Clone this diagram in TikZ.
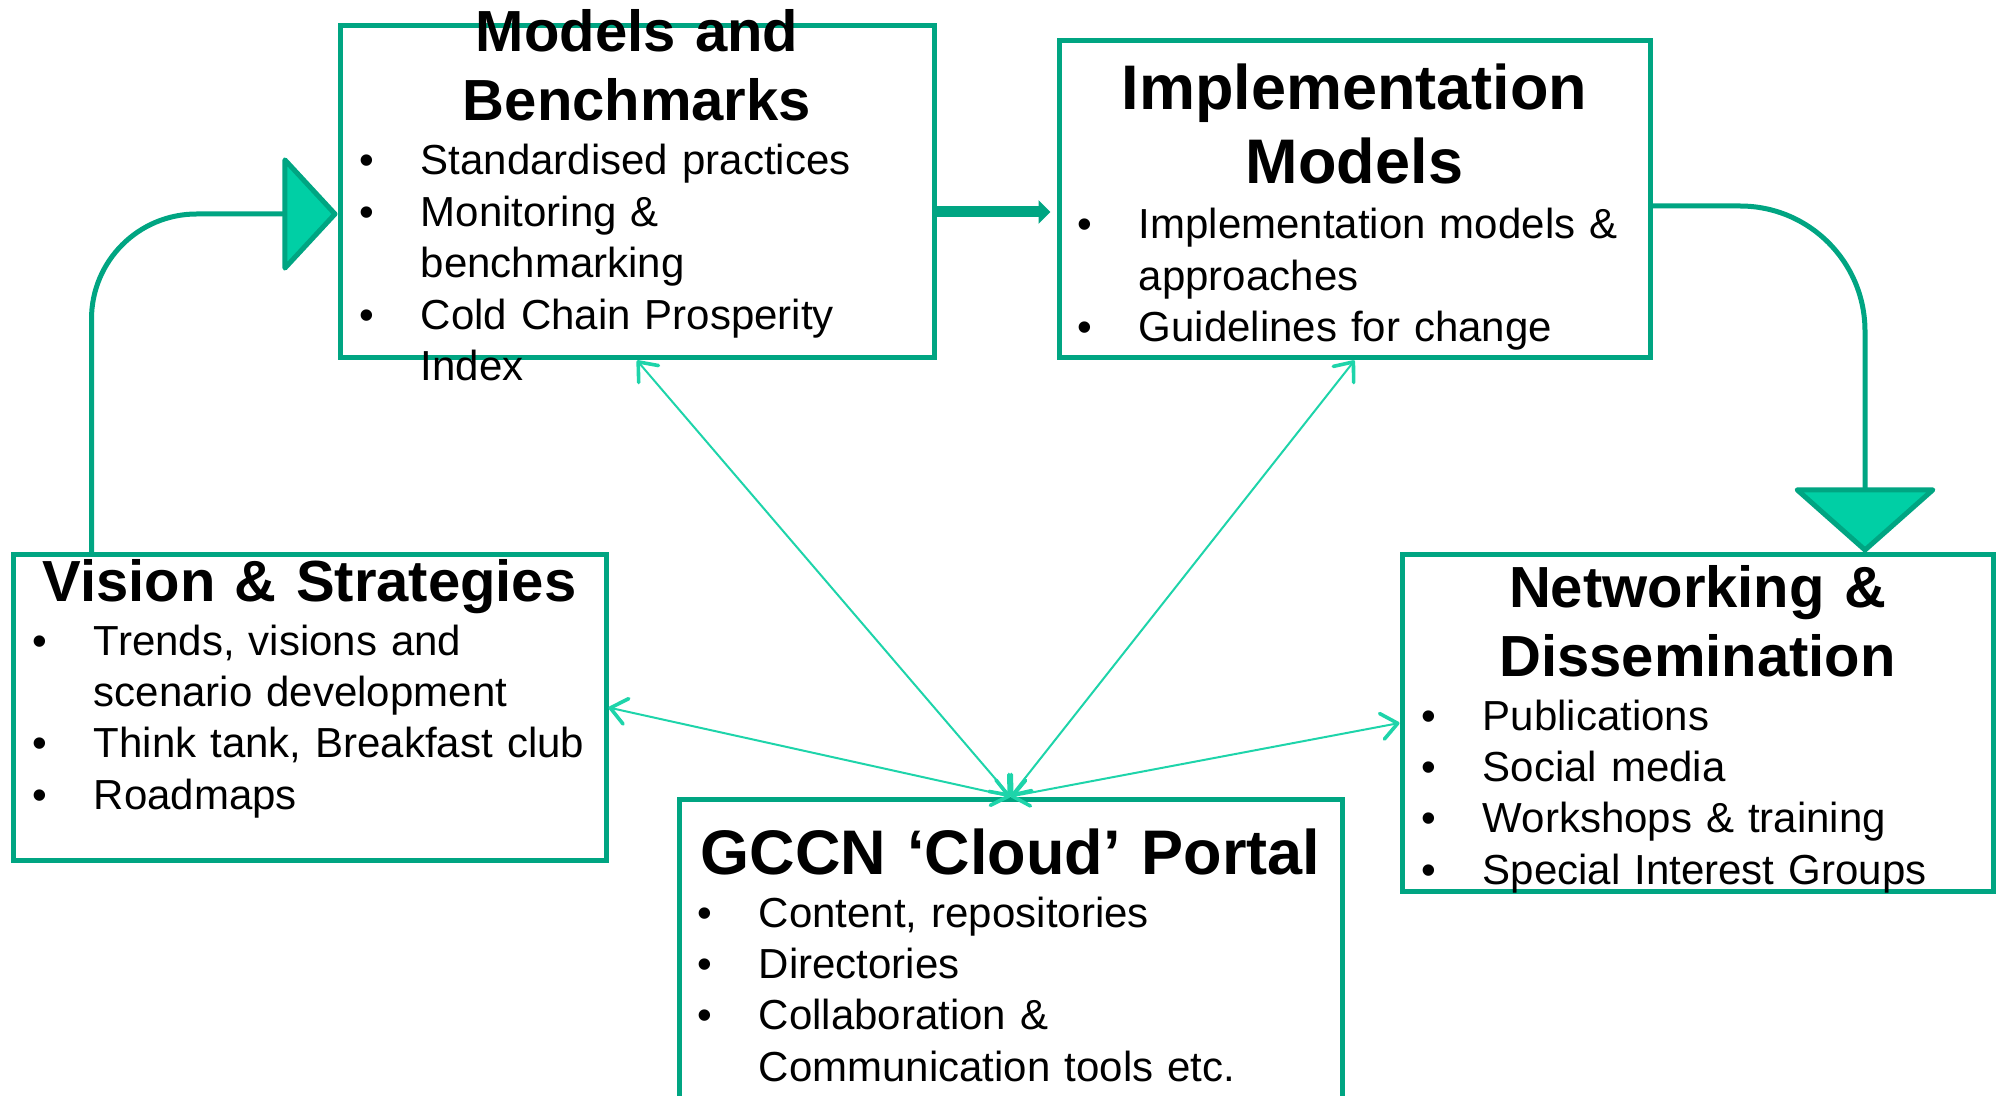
\documentclass[tikz,border=0pt]{standalone}
\usepackage{fontspec}
\setmainfont{Liberation Sans}
\usetikzlibrary{arrows.meta}
\definecolor{boxteal}{RGB}{0,165,130}
\definecolor{tipmint}{RGB}{0,207,165}
\definecolor{linkmint}{RGB}{30,212,170}
\newcommand{\bul}{\makebox[30.5pt][l]{\textbullet}}
\newcommand{\nobul}{\hspace*{30.5pt}}
\tikzset{box/.style={draw=boxteal, line width=2.5pt, rectangle, inner sep=0pt},
  ttl/.style={anchor=base, inner sep=0pt, text width=340pt, align=center, font=\bfseries\fontsize{29}{34.5}\selectfont},
  bigttl/.style={ttl, font=\bfseries\fontsize{31.5}{37}\selectfont},
  txt/.style={anchor=base west, inner sep=0pt, text width=300pt, align=left, font=\fontsize{21}{25.7}\selectfont},
  flow/.style={draw=boxteal, line width=2.5pt},
  link/.style={draw=linkmint, line width=1pt, {Straight Barb[length=8pt,width=13pt,line width=1.8pt,round]}-{Straight Barb[length=8pt,width=13pt,line width=1.8pt,round]}}}

\begin{document}
\begin{tikzpicture}[x=0.5pt,y=-0.5pt]
  \useasboundingbox (0,0) rectangle (2004,1096);
  % boxes
  \node[box, minimum width=297pt,   minimum height=166pt]   (mb) at ( 637,  192)   {};
  \node[box, minimum width=295.5pt, minimum height=158.5pt] (im) at (1354.5,199.5) {};
  \node[box, minimum width=296.5pt, minimum height=152.5pt] (vs) at ( 309.5,707.5) {};
  \node[box, minimum width=295.5pt, minimum height=168pt]   (nd) at (1697.5,723)   {};
  \node[box, minimum width=331.5pt, minimum height=161pt]   (gp) at (1010.5,960)   {};
  % titles
  \node[ttl]    (mbt) at ( 637,   52) {Models and\\Benchmarks};
  \node[bigttl] (imt) at (1354.5,110) {Implementation\\Models};
  \node[ttl]    (vst) at ( 309.5,602) {Vision \& Strategies};
  \node[ttl]    (ndt) at (1697.5,608) {Networking \&\\Dissemination};
  \node[bigttl] (gpt) at (1010.5,874) {GCCN ‘Cloud’ Portal};
  % bullet lists
  \node[txt] (mbl) at ( 359.5,175) {\bul Standardised practices\\\bul Monitoring \&\\\nobul benchmarking\\\bul Cold Chain Prosperity\\\nobul Index};
  \node[txt] (iml) at (1077.5,239) {\bul Implementation models \&\\\nobul approaches\\\bul Guidelines for change};
  \node[txt] (vsl) at (  32.5,655) {\bul Trends, visions and\\\nobul scenario development\\\bul Think tank, Breakfast club\\\bul Roadmaps};
  \node[txt] (ndl) at (1421.5,730) {\bul Publications\\\bul Social media\\\bul Workshops \& training\\\bul Special Interest Groups};
  \node[txt] (gpl) at ( 697.5,927) {\bul Content, repositories\\\bul Directories\\\bul Collaboration \&\\\nobul Communication tools etc.};
  % cycle
  \coordinate (vsout) at ([xshift=40.5pt]vs.north west);
  \coordinate (mbin)  at ([yshift=-11pt]mb.west);
  \coordinate (mbout) at ([yshift=-10pt]mb.east);
  \coordinate (imout) at ([yshift=-3.25pt]im.east);
  \coordinate (ndin)  at ([xshift=83.75pt]nd.north);
  \draw[flow, rounded corners=52.5pt, -{Triangle[length=28pt,width=60pt,fill=tipmint,round]}] (vsout) |- (mbin);
  \draw[flow, line width=5.5pt, shorten >=3pt, -{Triangle[length=6pt,width=11.5pt]}] (mbout) -- (mbout -| im.west);
  \draw[flow, rounded corners=62.5pt, -{Triangle[length=33pt,width=74pt,fill=tipmint,round]}] (imout) -| (ndin);
  % portal links
  \draw[link] (gp.north) -- (mb.south);
  \draw[link] (gp.north) -- (im.south);
  \draw[link] (gp.north) -- (vs.east);
  \draw[link] (gp.north) -- (nd.west);
\end{tikzpicture}
\end{document}
